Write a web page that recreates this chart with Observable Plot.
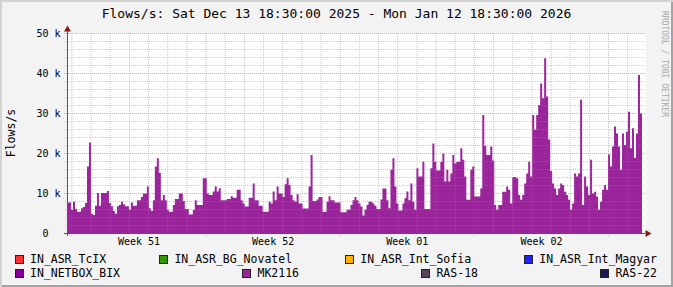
<!DOCTYPE html>
<html><head><meta charset="utf-8">
<script src="https://cdn.jsdelivr.net/npm/d3@7"></script>
<script src="https://cdn.jsdelivr.net/npm/@observablehq/plot@0.6"></script>
<style>
body{margin:0;background:#fff}
#chart{position:relative;width:673px;height:287px;background:#F3F3F3;overflow:hidden;font-family:"DejaVu Sans Mono",monospace;box-shadow:inset 2px 2px 0 #D2D2D2, inset -2px -2px 0 #A3A3A3}
#chart svg{position:absolute;left:0;top:0}
.title{position:absolute;left:0;width:673px;top:7px;text-align:center;font-size:13px;line-height:13px;color:#000;white-space:pre}
.ylab{position:absolute;left:11px;top:133px;transform:translate(-50%,-50%) rotate(-90deg);font-size:11.5px;line-height:12px;color:#000;white-space:pre}
.wm{position:absolute;left:660px;top:11px;writing-mode:vertical-rl;font-size:8px;line-height:9px;color:#A8A8A8;white-space:pre}
.lrow{position:absolute;left:15px;width:642px;height:12px;display:flex;justify-content:space-between;align-items:center}
.item{display:flex;align-items:center;font-size:11.5px;line-height:12px;color:#000;white-space:pre}
.sw{width:7px;height:7px;border:1px solid #222;margin-right:6px}
</style></head><body><div id="chart"></div>
<script>
// ---- data ----
const titleText = "Flows/s: Sat Dec 13 18:30:00 2025 - Mon Jan 12 18:30:00 2026";
const yAxisTitle = "Flows/s";
const watermark = "RRDTOOL / TOBI OETIKER";
const legendNames = ["IN_ASR_TcIX","IN_ASR_BG_Novatel","IN_ASR_Int_Sofia","IN_ASR_Int_Magyar","IN_NETBOX_BIX","MK2116","RAS-18","RAS-22"];
const legendColors = ["#FF3333","#339900","#FFB000","#2222FF","#880099","#9A249A","#554455","#1A1A55"];
const yTicks = [0,10000,20000,30000,40000,50000];
const yTickLabels = ["0\u00a0\u00a0","10 k","20 k","30 k","40 k","50 k"];
const weekLabels = ["Week 51","Week 52","Week 01","Week 02"];
// MK2116 flows/s, thousands, one value per 2.5 hours starting Sat Dec 13 18:30
const mk2116 = [
7.6,7.6,5.8,7.8,6.0,5.3,5.3,6.2,6.5,7.5,
16.6,22.6,4.8,4.5,6.8,10.0,6.8,10.0,10.0,10.0,
10.5,7.5,6.7,5.5,4.8,6.7,7.0,7.8,7.2,6.7,
6.7,5.8,7.6,6.8,6.8,8.2,8.2,9.0,9.9,9.9,
11.6,6.2,5.5,8.2,16.6,18.7,15.0,8.2,9.5,8.2,
5.8,5.3,5.3,7.0,8.5,8.5,9.9,9.9,8.0,6.0,
6.0,4.6,4.6,5.8,8.2,7.0,7.0,7.0,13.7,13.7,
9.9,9.5,9.5,10.4,11.6,10.4,11.2,8.2,8.2,8.2,
8.5,8.5,9.2,8.8,8.8,10.8,10.8,8.2,7.4,6.6,
6.6,8.8,8.8,12.4,8.2,8.2,6.8,6.8,5.3,5.3,
5.3,7.8,7.4,10.4,8.2,11.6,9.9,9.9,9.0,12.2,
13.7,12.0,9.5,8.2,7.8,9.7,7.4,7.4,6.1,6.1,
6.1,11.6,19.5,8.0,8.0,8.4,9.0,9.0,5.3,5.3,
7.8,9.2,8.2,8.2,7.6,7.6,7.6,5.2,5.2,5.2,
5.8,5.8,7.0,8.2,9.0,8.2,7.4,6.6,4.4,5.8,
7.0,7.8,7.8,7.4,6.8,6.0,6.0,8.4,11.1,11.1,
8.2,6.2,15.8,18.7,11.6,7.4,5.6,5.6,7.4,8.7,
10.4,8.2,12.4,7.8,5.8,16.2,14.1,14.1,17.8,6.0,
6.0,6.0,16.2,22.4,17.8,15.6,15.6,17.8,19.9,12.9,
15.8,12.9,14.9,19.5,17.4,17.8,17.8,21.2,18.3,14.1,
8.3,8.3,15.8,16.6,9.1,9.1,9.1,11.1,29.5,21.8,
19.5,19.5,21.6,18.1,7.0,5.8,7.0,7.0,10.3,10.3,
11.6,10.8,7.4,14.0,14.0,13.7,9.5,8.3,9.5,12.4,
14.9,17.8,14.1,29.5,25.8,29.5,32.0,37.4,33.7,43.7,
34.1,23.4,15.5,12.4,11.1,9.5,11.1,12.4,12.0,10.3,
9.5,8.3,5.8,7.4,14.9,14.1,14.9,33.3,7.0,14.1,
11.6,9.5,18.3,9.9,10.3,9.1,5.8,7.8,10.8,12.0,
10.8,19.6,16.6,21.6,26.6,24.9,21.6,15.8,24.9,22.0,
25.3,30.3,21.2,26.2,18.8,24.9,39.5,29.9
];

// ---- build ----
const start = Date.UTC(2025, 11, 13, 18, 30);
const stepMs = 2.5 * 3600 * 1000;
const end = start + 30 * 24 * 3600 * 1000;
const table = mk2116.map((v, i) => ({t: new Date(start + i * stepMs), v: v * 1000}));
table.push({t: new Date(end), v: mk2116[mk2116.length - 1] * 1000});

const sundays = d3.utcSunday.range(new Date(start), new Date(end));
const days = d3.utcDay.range(new Date(start), new Date(end)).filter(d => d.getUTCDay() !== 0);
const weekTable = sundays.slice(0, weekLabels.length).map((d, i) => ({t: d3.utcHour.offset(d, 84), label: weekLabels[i]}));
const yTable = yTicks.map((v, i) => ({v, label: yTickLabels[i]}));
const minorY = d3.range(2000, 50000, 2000).filter(v => v % 10000 !== 0);
const majorY = yTicks.filter(v => v > 0);

const mono = "DejaVu Sans Mono";
const minorColor = "rgba(140,140,140,0.45)";
const majorColor = "rgba(230,60,60,0.45)";
const axisColor = "#555555";
const arrowColor = "#8B1A1A";

const svg = Plot.plot({
  width: 673, height: 250,
  marginLeft: 67, marginRight: 31, marginTop: 33, marginBottom: 17,
  style: {background: "transparent", fontFamily: mono, fontSize: "10px", color: "#000", overflow: "visible"},
  x: {type: "utc", domain: [new Date(start), new Date(end)], axis: null},
  y: {domain: [0, 50000], axis: null},
  marks: [
    Plot.frame({fill: "white", stroke: null, insetRight: -3}),
    Plot.areaY(table, {x: "t", y: "v", curve: "step-after", fill: legendColors[5]}),
    Plot.ruleY(minorY, {stroke: minorColor, strokeDasharray: "1,1", insetLeft: -2, insetRight: -3}),
    Plot.ruleX(days, {stroke: minorColor, strokeDasharray: "1,1", insetBottom: -2}),
    Plot.ruleY(majorY, {stroke: majorColor, strokeDasharray: "1,1", insetLeft: -3, insetRight: -3}),
    Plot.ruleX(sundays, {stroke: majorColor, strokeDasharray: "1,1", insetBottom: -3}),
    Plot.ruleY([0], {stroke: axisColor, insetLeft: -3, insetRight: -3}),
    Plot.ruleX([new Date(start)], {stroke: axisColor, insetTop: -4, insetBottom: -3}),
    Plot.dot([{t: new Date(start), v: 50000}], {x: "t", y: "v", symbol: "triangle", r: 2.6, fill: arrowColor, stroke: null, dy: -4}),
    Plot.dot([{t: new Date(end), v: 0}], {x: "t", y: "v", symbol: "triangle", rotate: 90, r: 2.6, fill: arrowColor, stroke: null, dx: 5}),
    Plot.text(yTable, {y: "v", text: "label", frameAnchor: "left", textAnchor: "end", dx: -7, fontSize: 10, fontFamily: mono, fill: "#000"}),
    Plot.text(weekTable, {x: "t", text: "label", frameAnchor: "bottom", lineAnchor: "top", dy: 4, fontSize: 10, fontFamily: mono, fill: "#000"})
  ]
});

const root = document.getElementById("chart");
root.appendChild(svg);
const mk = (cls, txt) => { const e = document.createElement("div"); e.className = cls; if (txt != null) e.textContent = txt; root.appendChild(e); return e; };
mk("title", titleText);
mk("ylab", yAxisTitle);
mk("wm", watermark);
[0, 1].forEach(r => {
  const row = mk("lrow");
  row.style.top = (253 + r * 14) + "px";
  legendNames.slice(r * 4, r * 4 + 4).forEach((n, j) => {
    const it = document.createElement("div"); it.className = "item";
    const sw = document.createElement("span"); sw.className = "sw"; sw.style.background = legendColors[r * 4 + j];
    const tx = document.createElement("span"); tx.textContent = n;
    it.appendChild(sw); it.appendChild(tx); row.appendChild(it);
  });
});
</script></body></html>
